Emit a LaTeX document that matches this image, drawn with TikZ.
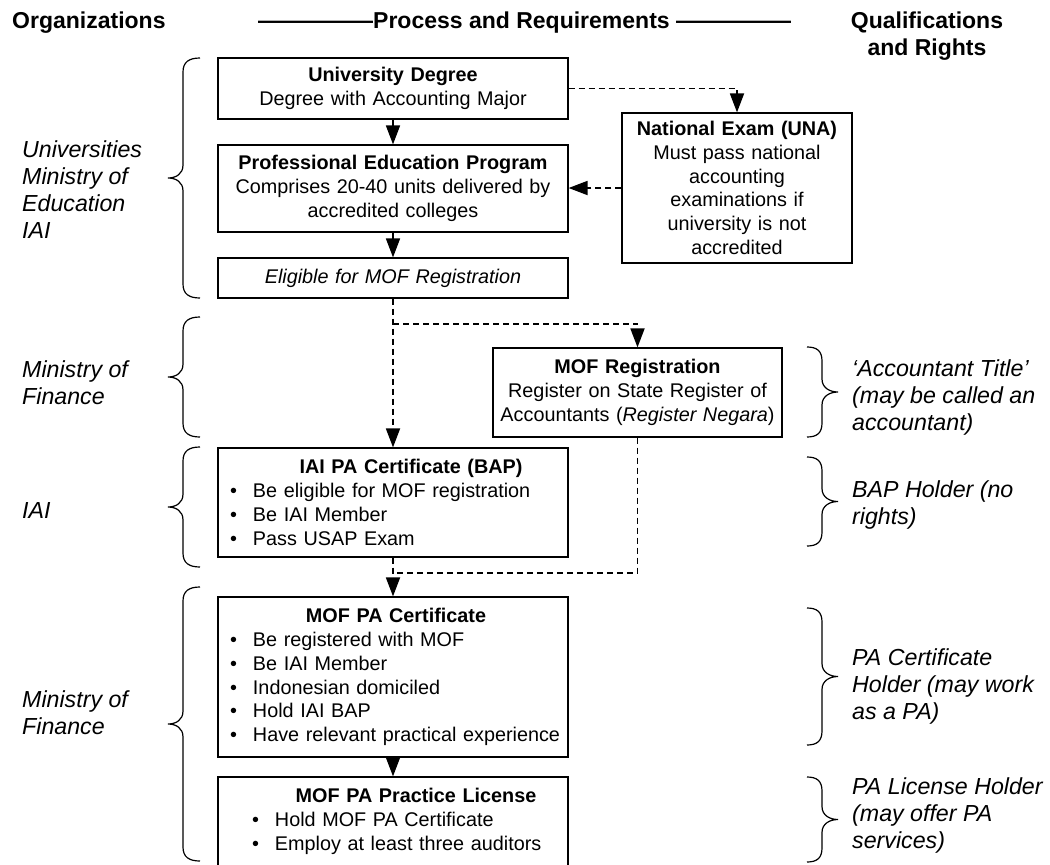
\documentclass[tikz,border=0pt]{standalone}
\usepackage{fontspec}
\setmainfont{Liberation Sans}
\usetikzlibrary{arrows.meta}
\newcommand\bodyfont{\fontsize{19.8}{23.8}\selectfont}
\newcommand\bigfont{\fontsize{23.2}{27.3}\selectfont}
\newcommand\bul{\hspace*{7pt}\makebox[23pt][l]{•}}
\newcommand\leftbrc[3]{\draw[brc] ({#1+17},#2) .. controls ({#1+6},#2) and (#1,{#2+4}) .. (#1,{#2+14}) -- (#1,{(#2+#3)/2-13}) .. controls (#1,{(#2+#3)/2-4}) and ({#1-7},{(#2+#3)/2}) .. ({#1-15},{(#2+#3)/2}) .. controls ({#1-7},{(#2+#3)/2}) and (#1,{(#2+#3)/2+4}) .. (#1,{(#2+#3)/2+13}) -- (#1,{#3-14}) .. controls (#1,{#3-4}) and ({#1+6},#3) .. ({#1+17},#3);}
\newcommand\rightbrc[3]{\draw[brc] ({#1-15},#2) .. controls ({#1-5},#2) and (#1,{#2+4}) .. (#1,{#2+14}) -- (#1,{(#2+#3)/2-13}) .. controls (#1,{(#2+#3)/2-4}) and ({#1+8},{(#2+#3)/2}) .. ({#1+16},{(#2+#3)/2}) .. controls ({#1+8},{(#2+#3)/2}) and (#1,{(#2+#3)/2+4}) .. (#1,{(#2+#3)/2+13}) -- (#1,{#3-14}) .. controls (#1,{#3-4}) and ({#1-5},#3) .. ({#1-15},#3);}
\begin{document}
\begin{tikzpicture}[x=1pt,y=-1pt,
  box/.style={draw, line width=1.2pt, inner sep=0pt, align=center, font=\bodyfont},
  lbox/.style={draw, line width=1.2pt, inner ysep=0pt, inner xsep=5pt, align=left, text width=340pt, minimum width=350pt, font=\bodyfont},
  hdr/.style={font=\fontsize{23}{27.3}\selectfont\bfseries, inner sep=0pt},
  lab/.style={font=\bigfont\itshape, inner sep=0pt, align=left},
  brc/.style={line width=1.2pt},
  arr/.style={line width=1.7pt, -{Triangle[length=19pt,width=14pt]}},
  darr/.style={line width=1.8pt, dash pattern=on 6pt off 4pt, -{Triangle[length=19pt,width=14pt]}},
  dsh/.style={line width=1.8pt, dash pattern=on 6pt off 4pt}]
\clip (0,0) rectangle (1050,865);
\fill[white] (0,0) rectangle (1050,865);

% headers
\node[hdr, anchor=base west] (horg) at (12,28) {Organizations};
\node[hdr, anchor=base west] (hproc) at (258,28) {—————Process and Requirements —————};
\node[hdr, anchor=base] (hqual) at (927,28) {Qualifications};
\node[hdr, anchor=base] (hrights) at (927,55) {and Rights};

% boxes
\node[box, minimum width=350pt, minimum height=61pt, text width=340pt] (ud) at (393,88.5)
  {\textbf{University Degree}\\Degree with Accounting Major};
\node[box, minimum width=350pt, minimum height=87pt, text width=340pt] (pep) at (393,188.5)
  {\textbf{Professional Education Program}\\Comprises 20-40 units delivered by\\accredited colleges};
\node[box, minimum width=350pt, minimum height=40pt, text width=340pt] (el) at (393,278)
  {\itshape Eligible for MOF Registration};
\node[box, minimum width=230pt, minimum height=150pt, text width=222pt] (ne) at (737,188)
  {\textbf{National Exam (UNA)}\\Must pass national\\accounting\\examinations if\\university is not\\accredited};
\node[box, minimum width=289pt, minimum height=89pt, text width=281pt] (mofr) at (637.5,392.5)
  {\textbf{MOF Registration}\\Register on State Register of\\Accountants (\textit{Register Negara})};
\node[lbox, minimum height=109pt] (iai) at (393,502.5)
  {\hspace*{188pt}\makebox[0pt]{\textbf{IAI PA Certificate (BAP)}}\\
   \bul Be eligible for MOF registration\\
   \bul Be IAI Member\\
   \bul Pass USAP Exam};
\node[lbox, minimum height=160pt] (mpc) at (393,677)
  {\hspace*{173pt}\makebox[0pt]{\textbf{MOF PA Certificate}}\\
   \bul Be registered with MOF\\
   \bul Be IAI Member\\
   \bul Indonesian domiciled\\
   \bul Hold IAI BAP\\
   \bul \mbox{Have relevant practical experience}};
\node[lbox, minimum height=109pt] (pl) at (393,831.5)
  {\hspace*{193pt}\makebox[0pt]{\textbf{MOF PA Practice License}}\\
   \hspace*{22pt}\bul Hold MOF PA Certificate\\
   \hspace*{22pt}\bul Employ at least three auditors\\
   \mbox{}};

% connectors
\draw[arr] (ud.south) -- (pep.north);
\draw[arr] (pep.south) -- (el.north);
\draw[darr] (ud.east) -| (ne.north);
\draw[darr] (ne.west) -- (ne.west -| pep.east);
\draw[darr] (el.south) -- (iai.north);
\path (el.south) ++(0,25) coordinate (b1);
\draw[darr] (b1) -| (mofr.north);
\path (iai.south) ++(0,15) coordinate (j1);
\draw[dsh] (mofr.south) |- (j1);
\draw[darr] (iai.south) -- (mpc.north);
\draw[arr] (mpc.south) -- (pl.north);

% left braces and labels
\leftbrc{183}{58}{298}
\leftbrc{183}{317}{437}
\leftbrc{183}{447}{567}
\leftbrc{183}{587}{861}
\node[lab, anchor=north west] (l1) at (22,140) {Universities\\Ministry of\\Education\\IAI};
\node[lab, anchor=north west] (l2) at (22,360) {Ministry of\\Finance};
\node[lab, anchor=north west] (l3) at (22,502) {IAI};
\node[lab, anchor=north west] (l4) at (22,690) {Ministry of\\Finance};

% right braces and labels
\rightbrc{822}{347}{437}
\rightbrc{822}{457}{546}
\rightbrc{822}{608}{745}
\rightbrc{822}{777}{862}
\node[lab, anchor=north west] (r1) at (852,359) {‘Accountant Title’\\(may be called an\\accountant)};
\node[lab, anchor=north west] (r2) at (852,480) {BAP Holder (no\\rights)};
\node[lab, anchor=north west] (r3) at (852,648) {PA Certificate\\Holder (may work\\as a PA)};
\node[lab, anchor=north west] (r4) at (852,777) {PA License Holder\\(may offer PA\\services)};
\end{tikzpicture}
\end{document}
